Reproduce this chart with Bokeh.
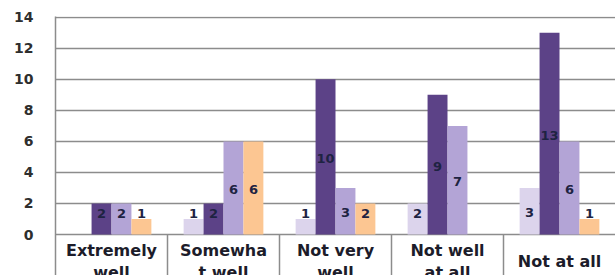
from bokeh.plotting import figure
from bokeh.models import Range1d, FixedTicker
from bokeh.embed import file_html
from bokeh.resources import INLINE
from bokeh.core.properties import value
import numpy as np

categories = ["Extremely\nwell", "Somewha\nt well", "Not very\nwell", "Not well\nat all", "Not at all"]
series_light = [0, 1, 1, 2, 3]
series_dark = [2, 2, 10, 9, 13]
series_mid = [2, 6, 3, 7, 6]
series_orange = [1, 6, 2, 0, 1]
y_ticks = [0, 2, 4, 6, 8, 10, 12, 14]

colors = ["#dcd4ec", "#5c4287", "#b3a4d6", "#fcc692"]
all_series = [series_light, series_dark, series_mid, series_orange]

grid_col = "#8c8c8c"
font = value("DejaVu Sans")
y_bottom = -2.64

p = figure(width=615, height=275, output_backend="svg", toolbar_location=None,
           x_range=Range1d(0, len(categories)), y_range=Range1d(y_bottom, 14.05),
           min_border_left=55, min_border_right=0, min_border_top=16, min_border_bottom=0)
p.outline_line_color = None
p.background_fill_color = "white"
p.xaxis.visible = False
p.xgrid.visible = False
p.ygrid.ticker = FixedTicker(ticks=y_ticks)
p.ygrid.grid_line_color = grid_col
p.ygrid.grid_line_width = 1.5

ya = p.yaxis[0]
ya.ticker = FixedTicker(ticks=y_ticks)
ya.major_tick_out = 0
ya.major_tick_in = 0
ya.minor_tick_out = 0
ya.minor_tick_in = 0
ya.axis_line_color = grid_col
ya.axis_line_width = 1.5
ya.major_label_standoff = 22
ya.major_label_text_font = "DejaVu Sans"
ya.major_label_text_font_style = "bold"
ya.major_label_text_font_size = "14px"
ya.major_label_text_color = "#2e2e2e"

centers = np.arange(len(categories)) + 0.5
bw = 0.178
offsets = [-1.5 * bw, -0.5 * bw, 0.5 * bw, 1.5 * bw]

lab_x, lab_y, lab_t = [], [], []
for vals, col, off in zip(all_series, colors, offsets):
    xs = centers + off
    p.vbar(x=xs, top=vals, bottom=0, width=bw, fill_color=col, line_color=None)
    for xv, v in zip(xs, vals):
        if v > 0:
            lab_x.append(xv)
            lab_y.append(max(v / 2 - 0.1, 1.35))
            lab_t.append(str(v))

p.text(x=lab_x, y=lab_y, text=lab_t, text_align="center", text_baseline="middle",
       text_font=font, text_font_style="bold", text_font_size="13px", text_color="#1e2342")

# category cell dividers
bounds = list(range(1, len(categories)))
p.segment(x0=bounds, y0=[0] * len(bounds), x1=bounds, y1=[y_bottom] * len(bounds),
          line_color=grid_col, line_width=1.5)

p.text(x=centers, y=[-1.74] * len(categories), text=categories, text_align="center",
       text_baseline="middle", text_font=font, text_font_style="bold",
       text_font_size="16px", text_line_height=1.15, text_color="#1c1c2a")

open("out.html", "w").write(file_html(p, INLINE))
